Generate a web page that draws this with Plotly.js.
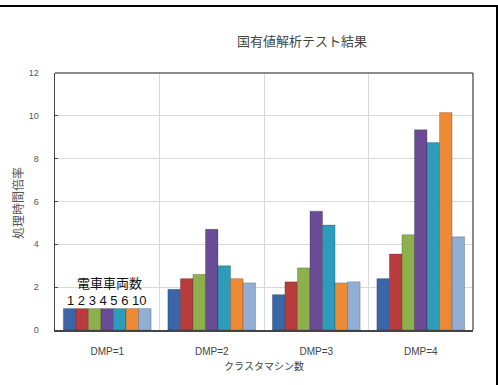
<!DOCTYPE html>
<html><head><meta charset="utf-8">
<script src="https://cdn.plot.ly/plotly-3.0.1.min.js"></script>
<style>html,body{margin:0;padding:0;background:#fff;}#chart{width:498px;height:385px;}</style>
</head><body><div id="chart"></div>
<script>
const categories = ["DMP=1", "DMP=2", "DMP=3", "DMP=4"];
const seriesNames = ["1", "2", "3", "4", "5", "6", "10"];
const s1  = [1.0, 1.9, 1.65, 2.4];
const s2  = [1.0, 2.4, 2.25, 3.55];
const s3  = [1.0, 2.6, 2.9, 4.45];
const s4  = [1.0, 4.7, 5.55, 9.35];
const s5  = [1.0, 3.0, 4.9, 8.75];
const s6  = [1.0, 2.4, 2.2, 10.15];
const s10 = [1.0, 2.2, 2.25, 4.35];
const seriesValues = [s1, s2, s3, s4, s5, s6, s10];
const colors = ["#3A66A7", "#B83B3D", "#8DB04D", "#6A4C96", "#2D9BBA", "#EC8A35", "#93AED4"];
const yTicks = [0, 2, 4, 6, 8, 10, 12];

const traces = seriesValues.map((v, i) => ({
  type: "bar", name: seriesNames[i], x: categories, y: v,
  marker: {color: colors[i], line: {color: "rgba(0,0,0,0.25)", width: 0.8}},
  hoverinfo: "skip"
}));

const L = 55, R = 473, T = 73, B = 330;
const px = x => (x - L) / (R - L);
const py = y => (B - y) / (B - T);

const ann = (text, x, y, size, color, family, extra) => Object.assign({
  text: text, xref: "paper", yref: "paper", x: px(x), y: py(y), xanchor: "center", yanchor: "middle",
  showarrow: false, font: {size: size, color: color, family: family}
}, extra || {});

const layout = {
  width: 498, height: 385,
  margin: {l: L, r: 498 - R, t: T, b: 385 - B, pad: 0},
  paper_bgcolor: "#ffffff", plot_bgcolor: "#ffffff",
  showlegend: false,
  barmode: "group", bargap: 0.16, bargroupgap: 0,
  font: {family: "Arial, 'Noto Sans CJK JP', sans-serif", color: "#444"},
  xaxis: {
    type: "category", tickson: "boundaries", showgrid: true, gridcolor: "#d8d8d8", gridwidth: 1,
    showline: true, linecolor: "#444", linewidth: 2, mirror: false, ticks: "",
    tickfont: {size: 10, color: "#444"}, ticklabelstandoff: 11,
    title: {text: "クラスタマシン数", font: {size: 10, color: "#444"}, standoff: 7}
  },
  yaxis: {
    range: [0, 12], tickvals: yTicks, showgrid: true, gridcolor: "#d8d8d8", gridwidth: 1,
    showline: true, linecolor: "#444", linewidth: 1.5, ticks: "inside", ticklen: 3, tickcolor: "#444",
    tickfont: {size: 9, color: "#555"}, ticklabelstandoff: 13, zeroline: false
  },
  annotations: [
    ann("国有値解析テスト結果", 302, 40, 13, "#444", "'Noto Sans CJK JP', sans-serif"),
    ann("処理時間倍率", 17, 203, 12, "#555", "'Noto Sans CJK JP', sans-serif", {textangle: -90}),
    ann("電車車両数", 109, 282, 13, "#111", "'Noto Sans CJK JP', sans-serif"),
    ann(seriesNames.join(" "), 107, 300, 13, "#111", "Arial, sans-serif")
  ],
  shapes: [
    {type: "line", xref: "paper", yref: "paper", x0: px(0), x1: px(498), y0: py(6), y1: py(6), line: {color: "#000", width: 2}},
    {type: "line", xref: "paper", yref: "paper", x0: px(497), x1: px(497), y0: py(6), y1: py(385), line: {color: "#000", width: 2}},
    {type: "line", xref: "paper", yref: "paper", x0: 0, x1: 1, y0: 1, y1: 1, line: {color: "#666", width: 1.5}},
    {type: "line", xref: "paper", yref: "paper", x0: 1, x1: 1, y0: 0, y1: 1, line: {color: "#666", width: 1.5}}
  ]
};
Plotly.newPlot("chart", traces, layout, {displayModeBar: false, staticPlot: true});
</script></body></html>
